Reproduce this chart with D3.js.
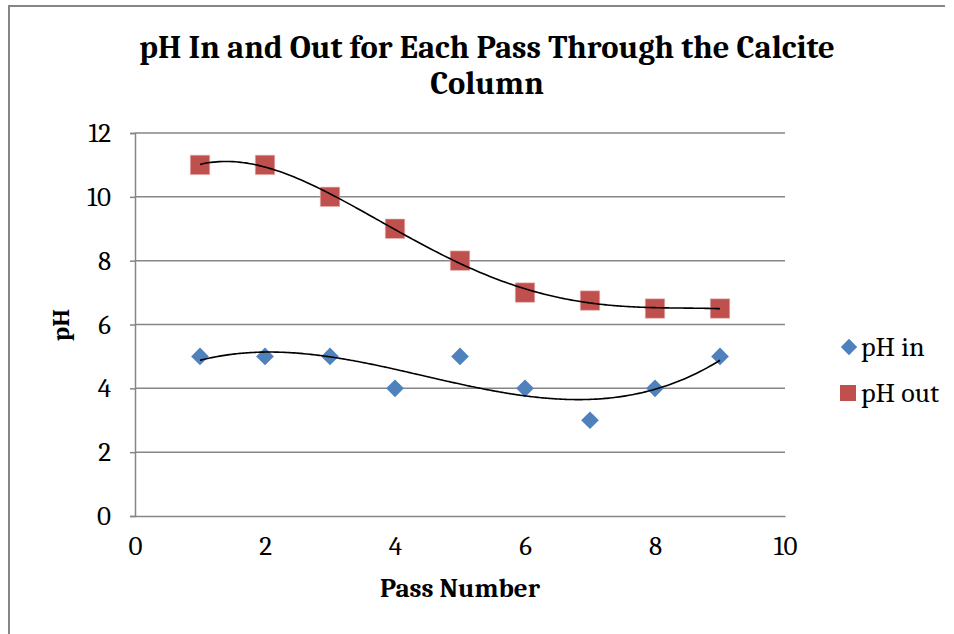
<!DOCTYPE html>
<html>
<head>
<meta charset="utf-8">
<script src="https://cdn.jsdelivr.net/npm/d3@7"></script>
<style>
  body { margin: 0; background: #fff; }
  text { font-family: Cambria, Caladea, "DejaVu Serif", serif; }
</style>
</head>
<body>
<svg width="954" height="634"></svg>
<script>
// data
var passNumbers = [1, 2, 3, 4, 5, 6, 7, 8, 9];
var phIn = [5, 5, 5, 4, 5, 4, 3, 4, 5];
var phOut = [11, 11, 10, 9, 8, 7, 6.75, 6.5, 6.5];
var xTicks = [0, 2, 4, 6, 8, 10];
var yTicks = [0, 2, 4, 6, 8, 10, 12];
var titleLines = ['pH In and Out for Each Pass Through the Calcite', 'Column'];
// polynomial trendline orders
var phInOrder = 3;
var phOutOrder = 4;

var svg = d3.select('svg');
var margin = { left: 135, top: 133, right: 785, bottom: 516 };

var x = d3.scaleLinear().domain([0, 10]).range([margin.left, margin.right]);
var y = d3.scaleLinear().domain([0, 12]).range([margin.bottom, margin.top]);

// outer chart frame (cropped on right/bottom)
svg.append('path')
    .attr('d', 'M 9,634 L 9,6 L 945,6')
    .attr('fill', 'none')
    .attr('stroke', '#868686')
    .attr('stroke-width', 2);

// gridlines
svg.append('g').selectAll('line').data(yTicks.slice(1)).enter().append('line')
    .attr('x1', margin.left).attr('x2', margin.right)
    .attr('y1', d => y(d)).attr('y2', d => y(d))
    .attr('stroke', '#868686').attr('stroke-width', 1.5);

// axes
var yAxis = d3.axisLeft(y).tickValues(yTicks).tickSize(5).tickPadding(19);
var xAxis = d3.axisBottom(x).tickValues(xTicks).tickSize(0).tickPadding(20);

var gy = svg.append('g').attr('transform', 'translate(' + margin.left + ',0)').call(yAxis);
var gx = svg.append('g').attr('transform', 'translate(0,' + margin.bottom + ')').call(xAxis);
[gx, gy].forEach(function (g) {
    g.attr('font-size', null).attr('font-family', null);
    g.select('.domain').attr('stroke', '#868686').attr('stroke-width', 1.5);
    g.selectAll('.tick line').attr('stroke', '#868686').attr('stroke-width', 1.5);
    g.selectAll('.tick text').attr('font-size', 27).attr('fill', '#000');
});

// least squares polynomial trendline, like the spreadsheet's
function polyfit(xs, ys, order) {
    var n = order + 1;
    var A = [];
    for (var i = 0; i < n; i++) {
        A.push([]);
        for (var j = 0; j <= n; j++) A[i].push(0);
    }
    xs.forEach(function (xv, k) {
        for (var i = 0; i < n; i++) {
            for (var j = 0; j < n; j++) A[i][j] += Math.pow(xv, i + j);
            A[i][n] += ys[k] * Math.pow(xv, i);
        }
    });
    for (var c = 0; c < n; c++) {
        var p = c;
        for (var r = c + 1; r < n; r++) if (Math.abs(A[r][c]) > Math.abs(A[p][c])) p = r;
        var tmp = A[c]; A[c] = A[p]; A[p] = tmp;
        for (var r = 0; r < n; r++) {
            if (r === c) continue;
            var f = A[r][c] / A[c][c];
            for (var j = c; j <= n; j++) A[r][j] -= f * A[c][j];
        }
    }
    return A.map((row, i) => row[n] / row[i]);
}

function trendPoints(ys, order) {
    var coef = polyfit(passNumbers, ys, order);
    return d3.range(1, 9.001, 0.05).map(function (xv) {
        return [xv, coef.reduce((s, c, i) => s + c * Math.pow(xv, i), 0)];
    });
}

var line = d3.line().x(d => x(d[0])).y(d => y(d[1])).curve(d3.curveMonotoneX);

// markers
svg.append('g').selectAll('path').data(passNumbers).enter().append('path')
    .attr('d', d3.symbol().type(d3.symbolSquare).size(380))
    .attr('transform', (d, i) => 'translate(' + x(d) + ',' + y(phOut[i]) + ')')
    .attr('fill', '#C0504D').attr('stroke', '#e9bcbb').attr('stroke-width', 0.6);

svg.append('g').selectAll('path').data(passNumbers).enter().append('path')
    .attr('d', d3.symbol().type(d3.symbolDiamond2).size(200))
    .attr('transform', (d, i) => 'translate(' + x(d) + ',' + y(phIn[i]) + ')')
    .attr('fill', '#4F81BD');

svg.append('path').datum(trendPoints(phOut, phOutOrder)).attr('d', line)
    .attr('fill', 'none').attr('stroke', '#000').attr('stroke-width', 1.6);
svg.append('path').datum(trendPoints(phIn, phInOrder)).attr('d', line)
    .attr('fill', 'none').attr('stroke', '#000').attr('stroke-width', 1.6);

// title
svg.append('text').attr('text-anchor', 'middle').attr('font-size', 32.6).attr('font-weight', 'bold')
    .selectAll('tspan').data(titleLines).enter().append('tspan')
    .attr('x', 487).attr('y', (d, i) => 58 + i * 36).text(d => d);

// axis titles
svg.append('text').attr('x', 460).attr('y', 597).attr('text-anchor', 'middle')
    .attr('font-size', 27).attr('font-weight', 'bold').text('Pass Number');
svg.append('text').attr('transform', 'translate(69,325) rotate(-90)').attr('text-anchor', 'middle')
    .attr('font-size', 25).attr('font-weight', 'bold').text('pH');

// legend
var legend = svg.append('g');
legend.append('path').attr('d', d3.symbol().type(d3.symbolDiamond2).size(170))
    .attr('transform', 'translate(849,347)').attr('fill', '#4F81BD');
legend.append('rect').attr('x', 840).attr('y', 385).attr('width', 16).attr('height', 16).attr('fill', '#C0504D');
legend.append('text').attr('x', 861).attr('y', 356).attr('font-size', 28).text('pH in');
legend.append('text').attr('x', 861).attr('y', 402).attr('font-size', 28).text('pH out');
</script>
</body>
</html>
